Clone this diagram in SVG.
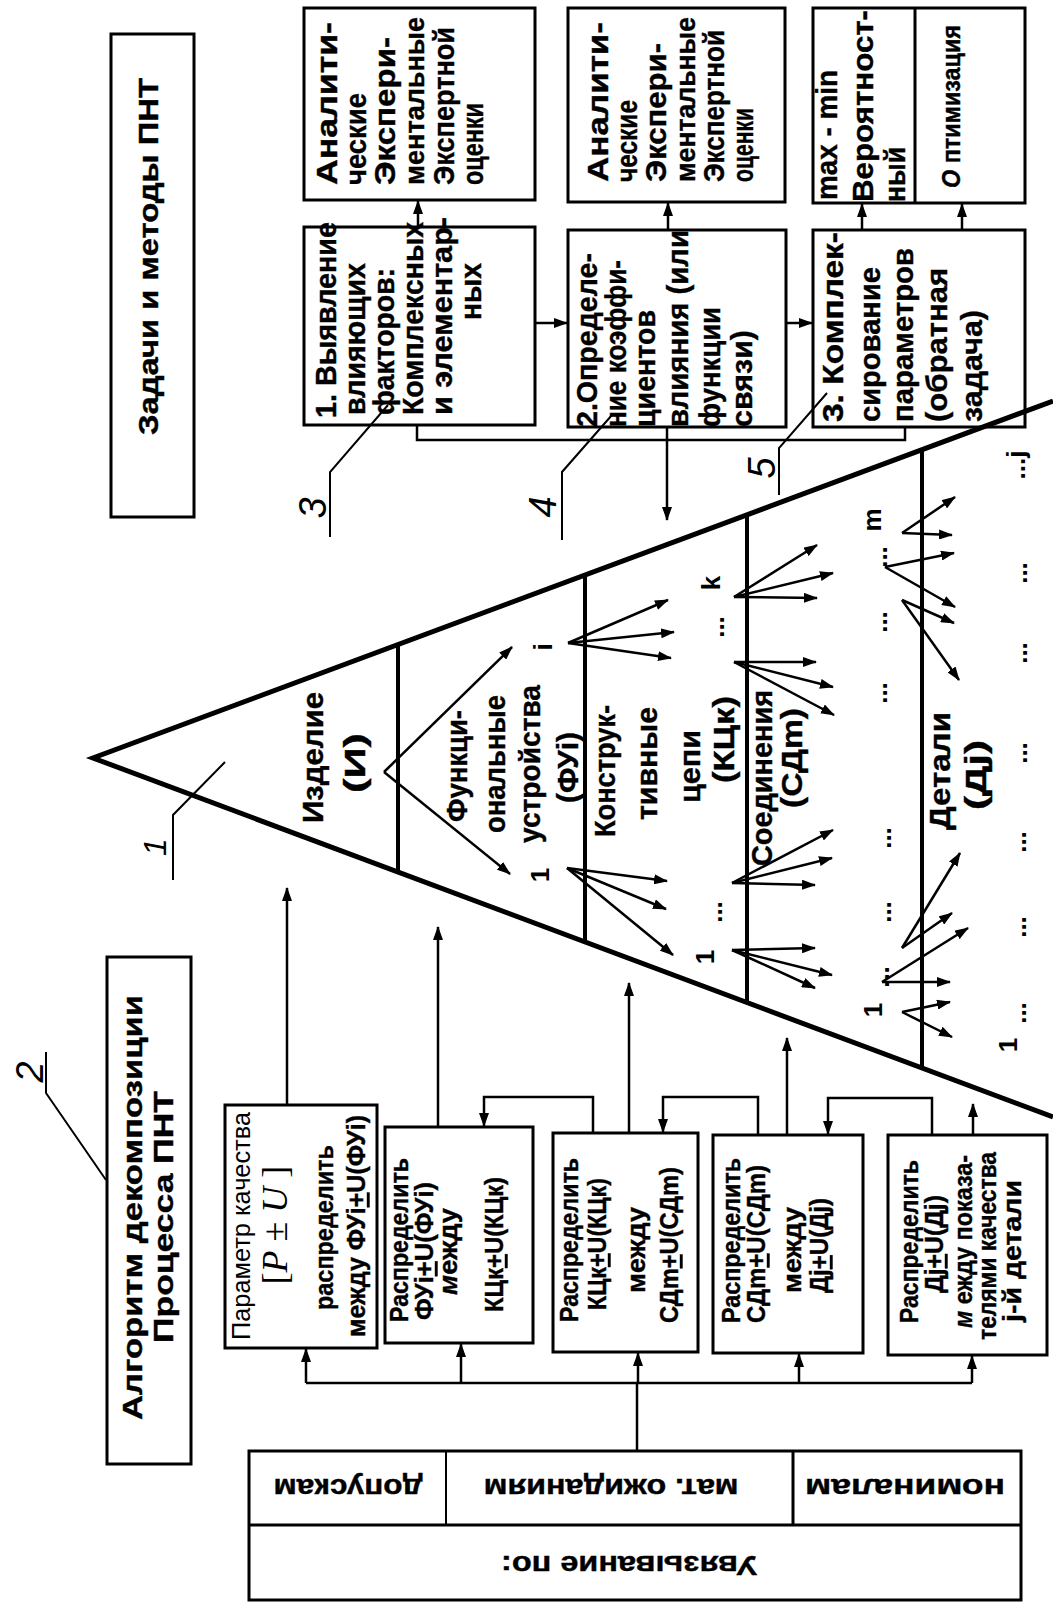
<svg xmlns="http://www.w3.org/2000/svg" width="1053" height="1605" viewBox="0 0 1053 1605">
<defs>
<marker id="ah" viewBox="0 0 14 10" refX="13" refY="5" markerWidth="14" markerHeight="10" markerUnits="userSpaceOnUse" orient="auto"><path d="M0,0 L14,5 L0,10 z" fill="#000"/></marker>
<style>
.box{fill:#fff;stroke:#000;stroke-width:3}
.ln{fill:none;stroke:#000;stroke-width:2.5}
.ar{fill:none;stroke:#000;stroke-width:2.5;marker-end:url(#ah)}
.thin{fill:none;stroke:#000;stroke-width:2}
.tri{fill:none;stroke:#000;stroke-width:5;stroke-linejoin:miter;stroke-miterlimit:20}
.dv{stroke:#000;stroke-width:4}
text{font-family:"Liberation Sans",Arial,sans-serif;fill:#000}
.b{font-weight:bold;stroke:#000;stroke-width:0.4}
.f31{font-size:30px}
.f28{font-size:28px}
.f25{font-size:25px}
.lab{font-size:38px;font-style:italic;font-weight:normal}
.sm{font-size:26px;font-weight:bold}
</style>
</defs>
<rect width="1053" height="1605" fill="#fff"/>

<g id="title-tasks">
<rect class="box" x="111" y="34" width="83" height="483"/>
<text class="b f28" transform="translate(158,435) rotate(-90)" textLength="357" lengthAdjust="spacingAndGlyphs">Задачи и методы ПНТ</text>
</g>

<g id="methods1">
<rect class="box" x="304" y="8" width="231" height="192"/>
<text class="b f31" transform="translate(337,185) rotate(-90)" textLength="163" lengthAdjust="spacingAndGlyphs">Аналити-</text>
<text class="b f31" transform="translate(366,185) rotate(-90)" textLength="92" lengthAdjust="spacingAndGlyphs">ческие</text>
<text class="b f31" transform="translate(395,185) rotate(-90)" textLength="148" lengthAdjust="spacingAndGlyphs">Экспери-</text>
<text class="b f28" transform="translate(424,185) rotate(-90)" textLength="168" lengthAdjust="spacingAndGlyphs">ментальные</text>
<text class="b f31" transform="translate(454,185) rotate(-90)" textLength="158" lengthAdjust="spacingAndGlyphs">Экспертной</text>
<text class="b f31" transform="translate(483,185) rotate(-90)" textLength="82" lengthAdjust="spacingAndGlyphs">оценки</text>
</g>

<g id="task1">
<rect class="box" x="304" y="227" width="231" height="198"/>
<text class="b f31" transform="translate(336,418) rotate(-90)" textLength="196" lengthAdjust="spacingAndGlyphs">1. Выявление</text>
<text class="b f31" transform="translate(365,415) rotate(-90)" textLength="152" lengthAdjust="spacingAndGlyphs">влияющих</text>
<text class="b f31" transform="translate(394,415) rotate(-90)" textLength="147" lengthAdjust="spacingAndGlyphs">факторов:</text>
<text class="b f31" transform="translate(423,415) rotate(-90)" textLength="193" lengthAdjust="spacingAndGlyphs">Комплексных</text>
<text class="b f31" transform="translate(452,415) rotate(-90)" textLength="198" lengthAdjust="spacingAndGlyphs">и элементар-</text>
<text class="b f31" transform="translate(481,320) rotate(-90)" textLength="57" lengthAdjust="spacingAndGlyphs">ных</text>
</g>

<g id="methods2">
<rect class="box" x="568" y="8" width="217" height="194"/>
<text class="b f31" transform="translate(608,182) rotate(-90)" textLength="160" lengthAdjust="spacingAndGlyphs">Аналити-</text>
<text class="b f31" transform="translate(637,182) rotate(-90)" textLength="82" lengthAdjust="spacingAndGlyphs">ческие</text>
<text class="b f31" transform="translate(666,182) rotate(-90)" textLength="139" lengthAdjust="spacingAndGlyphs">Экспери-</text>
<text class="b f28" transform="translate(695,182) rotate(-90)" textLength="165" lengthAdjust="spacingAndGlyphs">ментальные</text>
<text class="b f31" transform="translate(724,182) rotate(-90)" textLength="152" lengthAdjust="spacingAndGlyphs">Экспертной</text>
<text class="b f31" transform="translate(753,182) rotate(-90)" textLength="74" lengthAdjust="spacingAndGlyphs">оценки</text>
</g>

<g id="task2">
<rect class="box" x="568" y="230" width="218" height="197"/>
<text class="b f31" transform="translate(597,427) rotate(-90)" textLength="174" lengthAdjust="spacingAndGlyphs">2.Определе-</text>
<text class="b f31" transform="translate(626,427) rotate(-90)" textLength="167" lengthAdjust="spacingAndGlyphs">ние коэффи-</text>
<text class="b f31" transform="translate(655,427) rotate(-90)" textLength="117" lengthAdjust="spacingAndGlyphs">циентов</text>
<text class="b f31" transform="translate(688,427) rotate(-90)" textLength="197" lengthAdjust="spacingAndGlyphs">влияния (или</text>
<text class="b f31" transform="translate(720,427) rotate(-90)" textLength="120" lengthAdjust="spacingAndGlyphs">функции</text>
<text class="b f31" transform="translate(752,427) rotate(-90)" textLength="97" lengthAdjust="spacingAndGlyphs">связи)</text>
</g>

<g id="methods3">
<rect class="box" x="813" y="8" width="212" height="195"/>
<line class="ln" x1="915" y1="8" x2="915" y2="203" style="stroke-width:3"/>
<text class="b f31" transform="translate(837,200) rotate(-90)" textLength="130" lengthAdjust="spacingAndGlyphs">max - min</text>
<text class="b f31" transform="translate(873,202) rotate(-90)" textLength="192" lengthAdjust="spacingAndGlyphs">Вероятност-</text>
<text class="b f31" transform="translate(905,202) rotate(-90)" textLength="55" lengthAdjust="spacingAndGlyphs">ный</text>
<text class="b" style="font-size:25px" transform="translate(960,188) rotate(-90)" textLength="163" lengthAdjust="spacingAndGlyphs"><tspan font-style="italic">О</tspan> птимизация</text>
</g>

<g id="task3">
<rect class="box" x="813" y="230" width="212" height="197"/>
<text class="b f31" transform="translate(843,422) rotate(-90)" textLength="190" lengthAdjust="spacingAndGlyphs">3. Комплек-</text>
<text class="b f31" transform="translate(880,422) rotate(-90)" textLength="155" lengthAdjust="spacingAndGlyphs">сирование</text>
<text class="b f31" transform="translate(913,422) rotate(-90)" textLength="174" lengthAdjust="spacingAndGlyphs">параметров</text>
<text class="b f31" transform="translate(947,422) rotate(-90)" textLength="154" lengthAdjust="spacingAndGlyphs">(обратная</text>
<text class="b f31" transform="translate(982,422) rotate(-90)" textLength="112" lengthAdjust="spacingAndGlyphs">задача)</text>
</g>

<g id="pyramid">
<polyline class="tri" points="1053,401 93,758 1053,1117"/>
<line class="dv" x1="398" y1="645" x2="398" y2="872"/>
<line class="dv" x1="585" y1="575" x2="585" y2="942"/>
<line class="dv" x1="747" y1="515" x2="747" y2="1002"/>
<line class="dv" x1="922" y1="450" x2="922" y2="1068"/>
<text class="b f31" transform="translate(323,823) rotate(-90)" textLength="131" lengthAdjust="spacingAndGlyphs">Изделие</text>
<text class="b f31" transform="translate(365,793) rotate(-90)" textLength="60" lengthAdjust="spacingAndGlyphs">(И)</text>
<text class="b f31" transform="translate(467,822) rotate(-90)" textLength="112" lengthAdjust="spacingAndGlyphs">Функци-</text>
<text class="b f31" transform="translate(505,833) rotate(-90)" textLength="138" lengthAdjust="spacingAndGlyphs">ональные</text>
<text class="b f31" transform="translate(540,843) rotate(-90)" textLength="158" lengthAdjust="spacingAndGlyphs">устройства</text>
<text class="b f31" transform="translate(578,803) rotate(-90)" textLength="71" lengthAdjust="spacingAndGlyphs">(ФУi)</text>
<text class="b f31" transform="translate(615,837) rotate(-90)" textLength="132" lengthAdjust="spacingAndGlyphs">Конструк-</text>
<text class="b f31" transform="translate(657,820) rotate(-90)" textLength="113" lengthAdjust="spacingAndGlyphs">тивные</text>
<text class="b f31" transform="translate(700,803) rotate(-90)" textLength="73" lengthAdjust="spacingAndGlyphs">цепи</text>
<text class="b f31" transform="translate(734,783) rotate(-90)" textLength="87" lengthAdjust="spacingAndGlyphs">(КЦк)</text>
<text class="b f31" transform="translate(772,866) rotate(-90)" textLength="176" lengthAdjust="spacingAndGlyphs">Соединения</text>
<text class="b f31" transform="translate(802,808) rotate(-90)" textLength="100" lengthAdjust="spacingAndGlyphs">(СДm)</text>
<text class="b f31" transform="translate(950,830) rotate(-90)" textLength="118" lengthAdjust="spacingAndGlyphs">Детали</text>
<text class="b f31" transform="translate(986,810) rotate(-90)" textLength="70" lengthAdjust="spacingAndGlyphs">(Дj)</text>
<g>
<text class="sm" transform="translate(543,647) rotate(-90)" text-anchor="middle" dominant-baseline="central">i</text>
<text class="sm" transform="translate(540,875) rotate(-90)" text-anchor="middle" dominant-baseline="central">1</text>
<text class="sm" transform="translate(711,583) rotate(-90)" text-anchor="middle" dominant-baseline="central">k</text>
<text class="sm" transform="translate(715,627) rotate(-90)" text-anchor="middle" dominant-baseline="central">...</text>
<text class="sm" transform="translate(713,912) rotate(-90)" text-anchor="middle" dominant-baseline="central">...</text>
<text class="sm" transform="translate(705,957) rotate(-90)" text-anchor="middle" dominant-baseline="central">1</text>
<text class="sm" transform="translate(872,520) rotate(-90)" text-anchor="middle" dominant-baseline="central">m</text>
<text class="sm" transform="translate(878,557) rotate(-90)" text-anchor="middle" dominant-baseline="central">...</text>
<text class="sm" transform="translate(878,622) rotate(-90)" text-anchor="middle" dominant-baseline="central">...</text>
<text class="sm" transform="translate(878,693) rotate(-90)" text-anchor="middle" dominant-baseline="central">...</text>
<text class="sm" transform="translate(882,838) rotate(-90)" text-anchor="middle" dominant-baseline="central">...</text>
<text class="sm" transform="translate(882,912) rotate(-90)" text-anchor="middle" dominant-baseline="central">...</text>
<text class="sm" transform="translate(880,977) rotate(-90)" text-anchor="middle" dominant-baseline="central">...</text>
<text class="sm" transform="translate(873,1010) rotate(-90)" text-anchor="middle" dominant-baseline="central">1</text>
<text class="sm" transform="translate(1016,465) rotate(-90)" text-anchor="middle" dominant-baseline="central">...j</text>
<text class="sm" transform="translate(1018,573) rotate(-90)" text-anchor="middle" dominant-baseline="central">...</text>
<text class="sm" transform="translate(1018,653) rotate(-90)" text-anchor="middle" dominant-baseline="central">...</text>
<text class="sm" transform="translate(1018,753) rotate(-90)" text-anchor="middle" dominant-baseline="central">...</text>
<text class="sm" transform="translate(1017,842) rotate(-90)" text-anchor="middle" dominant-baseline="central">...</text>
<text class="sm" transform="translate(1017,927) rotate(-90)" text-anchor="middle" dominant-baseline="central">...</text>
<text class="sm" transform="translate(1017,1013) rotate(-90)" text-anchor="middle" dominant-baseline="central">...</text>
<text class="sm" transform="translate(1008,1045) rotate(-90)" text-anchor="middle" dominant-baseline="central">1</text>
</g>
</g>

<g id="title-algorithm">
<rect class="box" x="107" y="957" width="84" height="507"/>
<text class="b f28" transform="translate(142,1420) rotate(-90)" textLength="425" lengthAdjust="spacingAndGlyphs">Алгоритм декомпозиции</text>
<text class="b f28" transform="translate(173,1343) rotate(-90)" textLength="252" lengthAdjust="spacingAndGlyphs">Процесса ПНТ</text>
</g>

<g id="boxA">
<rect class="box" x="225" y="1105" width="152" height="243"/>
<text class="f25" transform="translate(250,1340) rotate(-90)" textLength="228" lengthAdjust="spacingAndGlyphs">Параметр качества</text>
<text transform="translate(287,1225) rotate(-90)" text-anchor="middle" style="font-family:'Liberation Serif',serif;font-size:36px">[<tspan font-style="italic">P</tspan> ± <tspan font-style="italic">U</tspan> ]</text>
<text class="b f25" transform="translate(333,1310) rotate(-90)" textLength="165" lengthAdjust="spacingAndGlyphs">распределить</text>
<text class="b f25" transform="translate(365,1337) rotate(-90)" textLength="222" lengthAdjust="spacingAndGlyphs">между   ФУi<tspan text-decoration="underline">+</tspan>U(ФУi)</text>
</g>

<g id="boxB">
<rect class="box" x="385" y="1127" width="148" height="216"/>
<text class="b f25" transform="translate(408,1322) rotate(-90)" textLength="164" lengthAdjust="spacingAndGlyphs">Распределить</text>
<text class="b f25" transform="translate(433,1320) rotate(-90)" textLength="138" lengthAdjust="spacingAndGlyphs">ФУi<tspan text-decoration="underline">+</tspan>U(ФУi)</text>
<text class="b f25" transform="translate(457,1295) rotate(-90)" textLength="87" lengthAdjust="spacingAndGlyphs"><tspan font-style="italic">м</tspan>ежду</text>
<text class="b f25" transform="translate(503,1312) rotate(-90)" textLength="135" lengthAdjust="spacingAndGlyphs">КЦк<tspan text-decoration="underline">+</tspan>U(КЦк)</text>
</g>

<g id="boxC">
<rect class="box" x="553" y="1133" width="145" height="219"/>
<text class="b f25" transform="translate(578,1322) rotate(-90)" textLength="164" lengthAdjust="spacingAndGlyphs">Распределить</text>
<text class="b f25" transform="translate(606,1310) rotate(-90)" textLength="132" lengthAdjust="spacingAndGlyphs">КЦк<tspan text-decoration="underline">+</tspan>U(КЦк)</text>
<text class="b f25" transform="translate(645,1293) rotate(-90)" textLength="86" lengthAdjust="spacingAndGlyphs">между</text>
<text class="b f25" transform="translate(678,1323) rotate(-90)" textLength="156" lengthAdjust="spacingAndGlyphs">СДm<tspan text-decoration="underline">+</tspan>U(СДm)</text>
</g>

<g id="boxD">
<rect class="box" x="713" y="1135" width="150" height="218"/>
<text class="b f25" transform="translate(740,1323) rotate(-90)" textLength="165" lengthAdjust="spacingAndGlyphs">Распределить</text>
<text class="b f25" transform="translate(765,1323) rotate(-90)" textLength="158" lengthAdjust="spacingAndGlyphs">СДm<tspan text-decoration="underline">+</tspan>U(СДm)</text>
<text class="b f25" transform="translate(801,1293) rotate(-90)" textLength="86" lengthAdjust="spacingAndGlyphs">между</text>
<text class="b f25" transform="translate(828,1293) rotate(-90)" textLength="95" lengthAdjust="spacingAndGlyphs">Дj<tspan text-decoration="underline">+</tspan>U(Дj)</text>
</g>

<g id="boxE">
<rect class="box" x="888" y="1135" width="159" height="220"/>
<text class="b f25" transform="translate(918,1323) rotate(-90)" textLength="163" lengthAdjust="spacingAndGlyphs">Распределить</text>
<text class="b f25" transform="translate(943,1293) rotate(-90)" textLength="98" lengthAdjust="spacingAndGlyphs">Дj<tspan text-decoration="underline">+</tspan>U(Дj)</text>
<text class="b f25" transform="translate(972,1328) rotate(-90)" textLength="173" lengthAdjust="spacingAndGlyphs"><tspan font-style="italic">м</tspan> ежду показа-</text>
<text class="b f25" transform="translate(996,1340) rotate(-90)" textLength="188" lengthAdjust="spacingAndGlyphs">телями качества</text>
<text class="b f25" transform="translate(1021,1322) rotate(-90)" textLength="142" lengthAdjust="spacingAndGlyphs">j-й  детали</text>
</g>

<g id="linking-table">
<rect class="box" x="249" y="1451" width="772" height="149"/>
<line class="ln" x1="249" y1="1525" x2="1021" y2="1525" style="stroke-width:3"/>
<line class="ln" x1="446" y1="1451" x2="446" y2="1525" style="stroke-width:2"/>
<line class="ln" x1="793" y1="1451" x2="793" y2="1525" style="stroke-width:3"/>
<text class="b f28" transform="translate(348,1488) rotate(180)" text-anchor="middle" dominant-baseline="central" textLength="149" lengthAdjust="spacingAndGlyphs">допускам</text>
<text class="b f28" transform="translate(611,1488) rotate(180)" text-anchor="middle" dominant-baseline="central" textLength="255" lengthAdjust="spacingAndGlyphs">мат. ожиданиям</text>
<text class="b f28" transform="translate(905,1488) rotate(180)" text-anchor="middle" dominant-baseline="central" textLength="200" lengthAdjust="spacingAndGlyphs">номиналам</text>
<text class="b f28" transform="translate(629,1565) rotate(180)" text-anchor="middle" dominant-baseline="central" textLength="256" lengthAdjust="spacingAndGlyphs">Увязывание по:</text>
</g>

<g id="labels">
<text class="lab" transform="translate(313,508) rotate(-90)" text-anchor="middle" dominant-baseline="central">3</text>
<text class="lab" transform="translate(543,507) rotate(-90)" text-anchor="middle" dominant-baseline="central">4</text>
<text class="lab" transform="translate(762,468) rotate(-90)" text-anchor="middle" dominant-baseline="central">5</text>
<text class="lab" transform="translate(155,847) rotate(-90)" text-anchor="middle" dominant-baseline="central" style="font-size:32px">1</text>
<text class="lab" transform="translate(30,1072) rotate(-90)" text-anchor="middle" dominant-baseline="central">2</text>
</g>

<g id="connectors">
<line class="ar" x1="418" y1="227" x2="418" y2="201"/>
<line class="ar" x1="668" y1="230" x2="668" y2="203"/>
<line class="ar" x1="862" y1="230" x2="862" y2="204"/>
<line class="ar" x1="962" y1="230" x2="962" y2="204"/>
<line class="ar" x1="535" y1="323" x2="567" y2="323"/>
<line class="ar" x1="786" y1="323" x2="812" y2="323"/>
<polyline class="ln" points="417,425 417,440 905,440 905,427"/>
<line class="ar" x1="667" y1="427" x2="667" y2="520"/>
<polyline class="thin" points="330,537 330,472 388,405"/>
<polyline class="thin" points="562,540 562,472 612,415"/>
<polyline class="thin" points="779,495 779,448 827,393"/>
<polyline class="thin" points="173,880 173,815 225,762"/>
<polyline class="thin" points="46,1052 46,1093 106,1180"/>

<line class="ln" x1="306" y1="1383" x2="972" y2="1383"/>
<line class="ln" x1="637" y1="1451" x2="637" y2="1383"/>
<line class="ar" x1="306" y1="1383" x2="306" y2="1349"/>
<line class="ar" x1="461" y1="1383" x2="461" y2="1344"/>
<line class="ar" x1="638" y1="1383" x2="638" y2="1353"/>
<line class="ar" x1="799" y1="1383" x2="799" y2="1354"/>
<line class="ar" x1="972" y1="1383" x2="972" y2="1356"/>
<line class="ar" x1="287" y1="1105" x2="287" y2="888"/>
<line class="ar" x1="438" y1="1127" x2="438" y2="927"/>
<line class="ar" x1="629" y1="1133" x2="629" y2="983"/>
<line class="ar" x1="787" y1="1135" x2="787" y2="1038"/>
<line class="ar" x1="973" y1="1135" x2="973" y2="1104"/>
<polyline class="ar" points="593,1133 593,1097 484,1097 484,1126"/>
<polyline class="ar" points="758,1135 758,1097 663,1097 663,1132"/>
<polyline class="ar" points="932,1135 932,1098 828,1098 828,1134"/>

<line class="ar" x1="384" y1="772" x2="512" y2="647"/>
<line class="ar" x1="384" y1="772" x2="510" y2="874"/>
<line class="ar" x1="568" y1="643" x2="668" y2="600"/>
<line class="ar" x1="568" y1="643" x2="674" y2="632"/>
<line class="ar" x1="568" y1="643" x2="671" y2="658"/>
<line class="ar" x1="567" y1="868" x2="667" y2="881"/>
<line class="ar" x1="567" y1="868" x2="666" y2="909"/>
<line class="ar" x1="567" y1="868" x2="673" y2="955"/>
<line class="ar" x1="734" y1="597" x2="817" y2="545"/>
<line class="ar" x1="734" y1="597" x2="833" y2="573"/>
<line class="ar" x1="734" y1="597" x2="817" y2="598"/>
<line class="ar" x1="734" y1="662" x2="816" y2="662"/>
<line class="ar" x1="734" y1="662" x2="833" y2="687"/>
<line class="ar" x1="734" y1="662" x2="834" y2="715"/>
<line class="ar" x1="732" y1="883" x2="833" y2="830"/>
<line class="ar" x1="732" y1="883" x2="832" y2="858"/>
<line class="ar" x1="732" y1="883" x2="815" y2="885"/>
<line class="ar" x1="732" y1="950" x2="815" y2="948"/>
<line class="ar" x1="732" y1="950" x2="832" y2="975"/>
<line class="ar" x1="732" y1="950" x2="815" y2="988"/>
<line class="ar" x1="902" y1="533" x2="955" y2="497"/>
<line class="ar" x1="902" y1="533" x2="952" y2="535"/>
<line class="ar" x1="885" y1="567" x2="954" y2="553"/>
<line class="ar" x1="885" y1="567" x2="955" y2="607"/>
<line class="ar" x1="902" y1="600" x2="954" y2="623"/>
<line class="ar" x1="902" y1="600" x2="959" y2="680"/>
<line class="ar" x1="902" y1="948" x2="960" y2="853"/>
<line class="ar" x1="902" y1="948" x2="952" y2="913"/>
<line class="ar" x1="882" y1="982" x2="968" y2="928"/>
<line class="ar" x1="882" y1="982" x2="950" y2="982"/>
<line class="ar" x1="902" y1="1012" x2="950" y2="1002"/>
<line class="ar" x1="902" y1="1012" x2="952" y2="1037"/>
</g>
</svg>
